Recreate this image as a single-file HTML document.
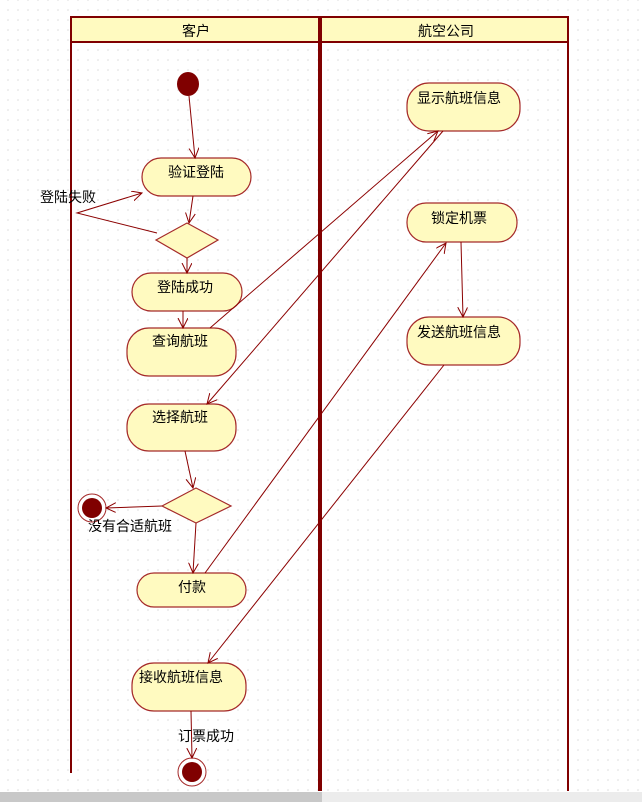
<!DOCTYPE html>
<html><head><meta charset="utf-8"><style>
html,body{margin:0;padding:0;background:#fff;}
body{width:642px;height:802px;overflow:hidden;position:relative;
background-image:radial-gradient(circle,#c8c8c8 0.7px,transparent 0.8px);background-size:10px 10px;background-position:3px 5px;}
svg{position:absolute;left:0;top:0;}
text{font-family:"Liberation Sans","Noto Sans CJK SC","WenQuanYi Zen Hei",sans-serif;font-size:14px;fill:#000;}
</style></head><body>
<svg width="642" height="802" viewBox="0 0 642 802">
<defs>
<marker id="a" markerWidth="12" markerHeight="12" refX="10" refY="5" orient="auto" markerUnits="userSpaceOnUse">
<path d="M0,0 L10,5 L0,10" fill="none" stroke="#8b0000" stroke-width="1"/>
</marker>
</defs>
<!-- header -->
<rect x="71" y="17" width="497" height="25" fill="#fffac0" stroke="#800000" stroke-width="2"/>
<line x1="71" y1="17" x2="71" y2="773" stroke="#800000" stroke-width="2"/>
<line x1="320" y1="17" x2="320" y2="791" stroke="#800000" stroke-width="4"/>
<line x1="568" y1="17" x2="568" y2="791" stroke="#800000" stroke-width="2"/>
<text x="196" y="36" text-anchor="middle">客户</text>
<text x="446" y="36" text-anchor="middle">航空公司</text>
<!-- bottom bar -->
<rect x="0" y="792" width="322" height="10" fill="#c8c8c8"/>
<rect x="322" y="792" width="320" height="10" fill="#ececec"/>

<g fill="#fffac0" stroke="#a52a2a" stroke-width="1.2">
<rect x="142" y="158" width="109" height="38" rx="19"/>
<rect x="132" y="273" width="110" height="38" rx="19"/>
<rect x="127" y="328" width="109" height="48" rx="22"/>
<rect x="127" y="404" width="109" height="47" rx="22"/>
<rect x="137" y="573" width="109" height="34" rx="17"/>
<rect x="132" y="663" width="114" height="48" rx="22"/>
<rect x="407" y="83" width="113" height="48" rx="22"/>
<rect x="407" y="203" width="110" height="39" rx="19"/>
<rect x="407" y="317" width="113" height="48" rx="22"/>
<polygon points="156,240 187,223 218,240 187,258"/>
<polygon points="162,506 196,488 231,506 196,523"/>
</g>
<!-- start / ends -->
<ellipse cx="188" cy="84" rx="11" ry="12" fill="#800000"/>
<circle cx="92" cy="508" r="14" fill="#fff" stroke="#a52a2a" stroke-width="1"/>
<circle cx="92" cy="508" r="10" fill="#800000"/>
<circle cx="192" cy="772" r="14" fill="#fff" stroke="#a52a2a" stroke-width="1"/>
<circle cx="192" cy="772" r="10" fill="#800000"/>

<g stroke="#8b0000" stroke-width="1" fill="none" marker-end="url(#a)">
<line x1="189" y1="96" x2="195" y2="158"/>
<line x1="193" y1="196" x2="189" y2="223"/>
<polyline points="157,233 77,213 142,193"/>
<line x1="187" y1="258" x2="187" y2="273"/>
<line x1="183" y1="311" x2="183" y2="328"/>
<line x1="210" y1="328" x2="438" y2="131"/>
<line x1="443" y1="131" x2="207" y2="404"/>
<line x1="185" y1="451" x2="193" y2="488"/>
<line x1="162" y1="506" x2="106" y2="508"/>
<line x1="196" y1="523" x2="193" y2="573"/>
<line x1="205" y1="573" x2="446" y2="243"/>
<line x1="461" y1="242" x2="463" y2="317"/>
<line x1="444" y1="365" x2="208" y2="663"/>
<line x1="191" y1="711" x2="192" y2="758"/>
</g>

<text x="146" y="177" dx="22">验证登陆</text>
<text x="157" y="292">登陆成功</text>
<text x="152" y="346">查询航班</text>
<text x="152" y="422">选择航班</text>
<text x="178" y="592">付款</text>
<text x="139" y="682">接收航班信息</text>
<text x="417" y="103">显示航班信息</text>
<text x="431" y="223">锁定机票</text>
<text x="417" y="337">发送航班信息</text>
<text x="40" y="202">登陆失败</text>
<text x="88" y="531">没有合适航班</text>
<text x="178" y="741">订票成功</text>
</svg>
</body></html>
